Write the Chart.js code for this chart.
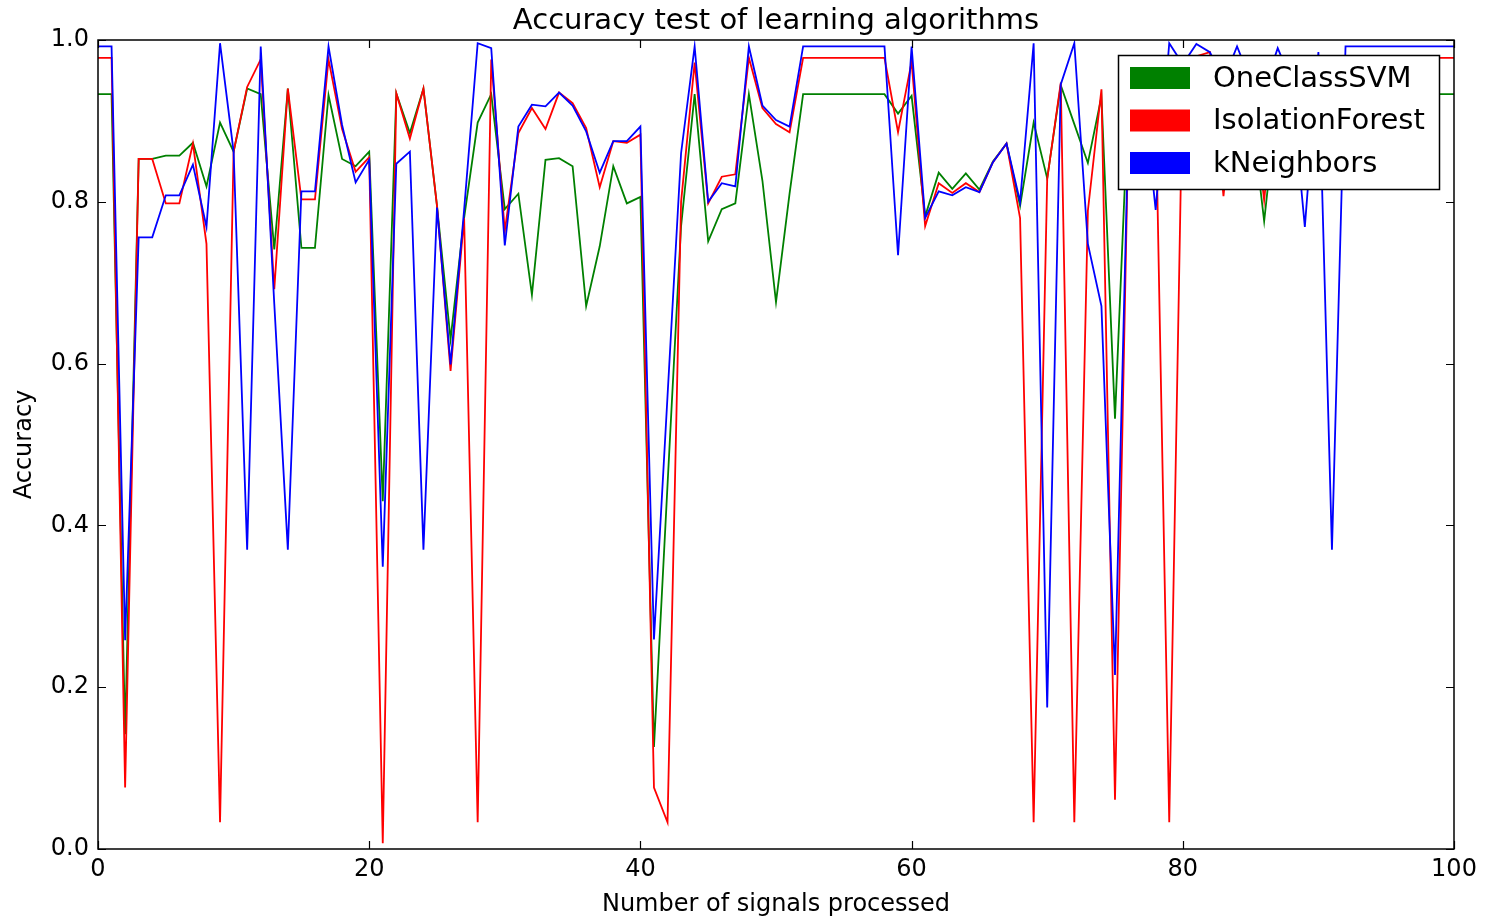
<!DOCTYPE html>
<html>
<head>
<meta charset="utf-8">
<script src="https://cdn.jsdelivr.net/npm/chart.js@4.4.1/dist/chart.umd.min.js"></script>
<style>
  html, body { margin: 0; padding: 0; background: #fff; }
  #wrap { width: 1485px; height: 923px; }
</style>
</head>
<body>
<div id="wrap"><canvas id="accuracyChart"></canvas></div>
<script>
// x positions: number of signals processed (0..100)
const signals = Array.from({ length: 101 }, (_, i) => i);

const oneClassSVM = [
  0.933, 0.933, 0.142, 0.853, 0.853, 0.857, 0.857, 0.873, 0.819, 0.898,
  0.862, 0.940, 0.933, 0.741, 0.940, 0.743, 0.743, 0.932, 0.853, 0.844,
  0.862, 0.430, 0.934, 0.885, 0.940, 0.795, 0.630, 0.780, 0.898, 0.933,
  0.791, 0.810, 0.685, 0.852, 0.854, 0.844, 0.671, 0.745, 0.844, 0.798,
  0.806, 0.126, 0.450, 0.770, 0.933, 0.751, 0.791, 0.798, 0.933, 0.826,
  0.676, 0.810, 0.933, 0.933, 0.933, 0.933, 0.933, 0.933, 0.933, 0.909,
  0.931, 0.782, 0.836, 0.816, 0.835, 0.815, 0.850, 0.872, 0.795, 0.898,
  0.829, 0.944, 0.896, 0.848, 0.930, 0.532, 0.930, 0.930, 0.920, 0.930,
  0.930, 0.930, 0.930, 0.930, 0.930, 0.920, 0.776, 0.930, 0.930, 0.930,
  0.930, 0.930, 0.933, 0.933, 0.933, 0.933, 0.933, 0.933, 0.933, 0.933,
  0.933
];

const isolationForest = [
  0.978, 0.978, 0.076, 0.853, 0.853, 0.798, 0.798, 0.872, 0.748, 0.033,
  0.862, 0.942, 0.976, 0.692, 0.940, 0.803, 0.803, 0.976, 0.890, 0.837,
  0.855, 0.007, 0.934, 0.878, 0.940, 0.795, 0.591, 0.780, 0.033, 0.976,
  0.764, 0.885, 0.916, 0.890, 0.935, 0.922, 0.891, 0.818, 0.875, 0.873,
  0.883, 0.076, 0.033, 0.800, 0.972, 0.798, 0.831, 0.834, 0.978, 0.916,
  0.896, 0.886, 0.978, 0.978, 0.978, 0.978, 0.978, 0.978, 0.978, 0.886,
  0.973, 0.770, 0.823, 0.811, 0.823, 0.812, 0.849, 0.872, 0.780, 0.033,
  0.828, 0.947, 0.033, 0.789, 0.939, 0.061, 0.900, 0.950, 0.920, 0.033,
  0.960, 0.980, 0.985, 0.807, 0.970, 0.950, 0.802, 0.970, 0.960, 0.960,
  0.970, 0.970, 0.978, 0.978, 0.978, 0.978, 0.978, 0.978, 0.978, 0.978,
  0.978
];

const kNeighbors = [
  0.992, 0.992, 0.258, 0.756, 0.756, 0.808, 0.808, 0.846, 0.769, 0.996,
  0.862, 0.370, 0.992, 0.674, 0.370, 0.813, 0.813, 0.992, 0.895, 0.824,
  0.852, 0.349, 0.847, 0.862, 0.370, 0.793, 0.599, 0.790, 0.996, 0.990,
  0.746, 0.893, 0.920, 0.918, 0.935, 0.919, 0.887, 0.836, 0.875, 0.875,
  0.893, 0.259, 0.560, 0.860, 0.992, 0.800, 0.823, 0.819, 0.992, 0.919,
  0.901, 0.893, 0.992, 0.992, 0.992, 0.992, 0.992, 0.992, 0.992, 0.734,
  0.992, 0.780, 0.813, 0.808, 0.818, 0.812, 0.849, 0.872, 0.800, 0.996,
  0.175, 0.945, 0.996, 0.748, 0.671, 0.215, 0.900, 0.950, 0.790, 0.996,
  0.970, 0.995, 0.985, 0.950, 0.992, 0.950, 0.940, 0.990, 0.950, 0.769,
  0.985, 0.370, 0.992, 0.992, 0.992, 0.992, 0.992, 0.992, 0.992, 0.992,
  0.992
];

const seriesNames = ["OneClassSVM", "IsolationForest", "kNeighbors"];
const seriesColors = ["#008000", "#ff0000", "#0000ff"];
const xTicks = [0, 20, 40, 60, 80, 100];
const yTicks = [0.0, 0.2, 0.4, 0.6, 0.8, 1.0];

const FONT = "'DejaVu Sans', 'Liberation Sans', sans-serif";

// matplotlib-like frame with inward ticks on all four sides
const framePlugin = {
  id: 'frame',
  afterDatasetsDraw(chart) {
    const { ctx, chartArea: a, scales } = chart;
    ctx.save();
    ctx.strokeStyle = '#000';
    ctx.lineWidth = 1.2;
    const len = 8;
    ctx.beginPath();
    xTicks.forEach(v => {
      const x = Math.round(scales.x.getPixelForValue(v)) + 0.5;
      ctx.moveTo(x, a.bottom); ctx.lineTo(x, a.bottom - len);
      ctx.moveTo(x, a.top); ctx.lineTo(x, a.top + len);
    });
    yTicks.forEach(v => {
      const y = Math.round(scales.y.getPixelForValue(v)) + 0.5;
      ctx.moveTo(a.left, y); ctx.lineTo(a.left + len, y);
      ctx.moveTo(a.right, y); ctx.lineTo(a.right - len, y);
    });
    ctx.stroke();
    ctx.lineWidth = 1.5;
    ctx.strokeRect(a.left, a.top, a.right - a.left, a.bottom - a.top);
    ctx.restore();
  }
};

// legend box in the upper-right corner of the plot
const legendPlugin = {
  id: 'boxLegend',
  afterDraw(chart) {
    const { ctx } = chart;
    const box = { x: 1118.5, y: 55.5, w: 321, h: 134 };
    ctx.save();
    ctx.fillStyle = '#fff';
    ctx.fillRect(box.x, box.y, box.w, box.h);
    ctx.strokeStyle = '#000';
    ctx.lineWidth = 1.5;
    ctx.strokeRect(box.x, box.y, box.w, box.h);
    ctx.font = '29px ' + FONT;
    ctx.textBaseline = 'middle';
    ctx.textAlign = 'left';
    chart.data.datasets.forEach((ds, i) => {
      const cy = 78 + i * 42.5;
      ctx.fillStyle = ds.borderColor;
      ctx.fillRect(1130, cy - 11, 60, 22);
      ctx.fillStyle = '#000';
      ctx.fillText(ds.label, 1213, cy + 1);
    });
    ctx.restore();
  }
};

const series = [oneClassSVM, isolationForest, kNeighbors];

new Chart(document.getElementById('accuracyChart'), {
  type: 'line',
  data: {
    labels: signals,
    datasets: series.map((values, i) => ({
      label: seriesNames[i],
      data: values,
      borderColor: seriesColors[i],
      backgroundColor: seriesColors[i],
      borderWidth: 1.8,
      pointRadius: 0,
      tension: 0,
      fill: false,
      order: 2 - i
    }))
  },
  options: {
    responsive: true,
    maintainAspectRatio: false,
    animation: false,
    devicePixelRatio: 1,
    layout: { padding: { left: 0, right: 31, top: 0, bottom: 0 } },
    plugins: {
      legend: { display: false },
      tooltip: { enabled: false },
      title: {
        display: true,
        fullSize: false,
        text: 'Accuracy test of learning algorithms',
        color: '#000',
        font: { family: FONT, size: 29, weight: 'normal' },
        padding: { top: 4, bottom: 1.2 }
      }
    },
    scales: {
      x: {
        type: 'linear',
        min: 0,
        max: 100,
        grid: { display: false, drawTicks: false },
        border: { display: false },
        ticks: {
          stepSize: 20,
          color: '#000',
          padding: 6,
          maxRotation: 0,
          font: { family: FONT, size: 24 }
        },
        title: {
          display: true,
          text: 'Number of signals processed',
          color: '#000',
          font: { family: FONT, size: 24 },
          padding: { top: 0, bottom: 3.6 }
        },
        afterFit(scale) { scale.height = 74; }
      },
      y: {
        min: 0,
        max: 1,
        grid: { display: false, drawTicks: false },
        border: { display: false },
        ticks: {
          stepSize: 0.2,
          color: '#000',
          padding: 9,
          font: { family: FONT, size: 24 },
          callback: v => v.toFixed(1)
        },
        title: {
          display: true,
          text: 'Accuracy',
          color: '#000',
          font: { family: FONT, size: 24 },
          padding: { top: 10.6, bottom: 0 }
        },
        afterFit(scale) { scale.width = 98; }
      }
    }
  },
  plugins: [framePlugin, legendPlugin]
});
</script>
</body>
</html>
